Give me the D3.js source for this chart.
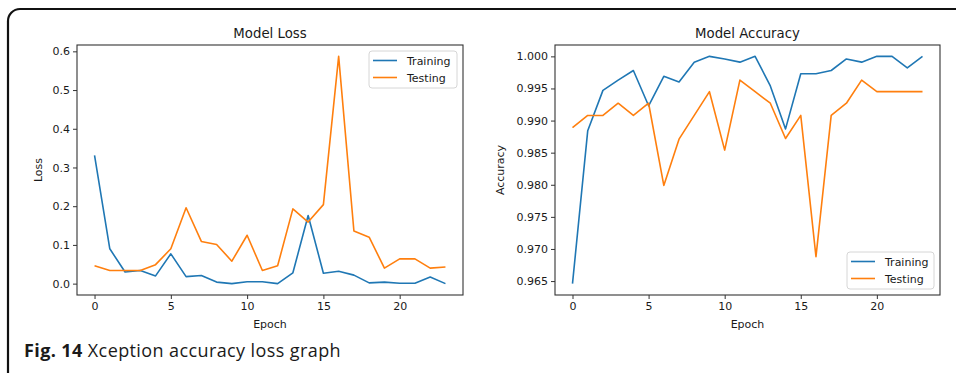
<!DOCTYPE html>
<html>
<head>
<meta charset="utf-8">
<title>Xception accuracy loss graph</title>
<script src="https://d3js.org/d3.v7.min.js"></script>
<style>
body {margin:0; background:white;}
svg {display:block;}
</style>
</head>
<body>
<svg id="chart" width="956" height="373"></svg>
<script>
// values
var epochs = d3.range(0, 24);
var lossTrain = [0.331, 0.090, 0.030, 0.034, 0.020, 0.077, 0.018, 0.021, 0.004, 0.000, 0.005, 0.005,
                 0.000, 0.028, 0.176, 0.027, 0.032, 0.022, 0.002, 0.004, 0.001, 0.001, 0.017, 0.000];
var lossTest = [0.046, 0.034, 0.034, 0.034, 0.049, 0.090, 0.196, 0.109, 0.101, 0.058, 0.125, 0.034,
                0.046, 0.193, 0.159, 0.204, 0.587, 0.136, 0.120, 0.040, 0.064, 0.064, 0.040, 0.043];
var accTrain = [0.9646, 0.9884, 0.9947, 0.9963, 0.9978, 0.9923, 0.9969, 0.9960, 0.9991, 1.0000, 0.9996, 0.9991,
                1.0000, 0.9954, 0.9887, 0.9973, 0.9973, 0.9978, 0.9996, 0.9991, 1.0000, 1.0000, 0.9982, 1.0000];
var accTest = [0.9889, 0.9908, 0.9908, 0.9927, 0.9908, 0.9927, 0.9799, 0.9871, 0.9908, 0.9945, 0.9854, 0.9963,
               0.9945, 0.9927, 0.9872, 0.9908, 0.9688, 0.9908, 0.9927, 0.9963, 0.9945, 0.9945, 0.9945, 0.9945];
var xTicks = [0, 5, 10, 15, 20];
var lossTicks = [0.0, 0.1, 0.2, 0.3, 0.4, 0.5, 0.6];
var accTicks = [0.965, 0.970, 0.975, 0.980, 0.985, 0.990, 0.995, 1.000];
var seriesNames = ["Training", "Testing"];
var seriesColors = ["#1f77b4", "#ff7f0e"];

var svg = d3.select("#chart");
var fontFam = "'DejaVu Sans', sans-serif";

// figure frame (top + left with rounded corner)
svg.append("path")
  .attr("d", "M8,373 V21 A12,12 0 0 1 20,9 H956")
  .attr("fill", "none")
  .attr("stroke", "#111")
  .attr("stroke-width", 2.2);

// caption
var cap = svg.append("text")
  .attr("x", 24).attr("y", 357)
  .style("font-family", "'Open Sans', 'Noto Sans', sans-serif")
  .style("font-size", "18px")
  .style("letter-spacing", "0.4px")
  .attr("fill", "#1a1a1a");
cap.append("tspan").style("font-weight", "bold").text("Fig. 14");
cap.append("tspan").text(" Xception accuracy loss graph");

function pad(ext) {
  var m = (ext[1] - ext[0]) * 0.05;
  return [ext[0] - m, ext[1] + m];
}

function drawPanel(p) {
  var g = svg.append("g");
  var x = d3.scaleLinear().domain(pad([0, 23])).range([p.left, p.right]);
  var all = p.series[0].concat(p.series[1]);
  var y = d3.scaleLinear().domain(pad(d3.extent(all))).range([p.bottom, p.top]);

  var xAxis = d3.axisBottom(x).tickValues(xTicks).tickFormat(d3.format("d")).tickSizeOuter(0).tickSize(4).tickPadding(3);
  var yAxis = d3.axisLeft(y).tickValues(p.ticks).tickFormat(d3.format(p.fmt)).tickSizeOuter(0).tickSize(4).tickPadding(3);

  g.append("g").attr("transform", "translate(0," + p.bottom + ")").call(xAxis);
  g.append("g").attr("transform", "translate(" + p.left + ",0)").call(yAxis);
  g.selectAll(".domain").remove();
  g.selectAll(".tick line").attr("stroke", "#333");
  g.selectAll(".tick text").attr("fill", "#1a1a1a").style("font-family", fontFam).style("font-size", "11px");

  var line = d3.line().x(function(d, i) { return x(epochs[i]); }).y(function(d) { return y(d); });
  p.series.forEach(function(s, k) {
    g.append("path")
      .datum(s)
      .attr("d", line)
      .attr("fill", "none")
      .attr("stroke", seriesColors[k])
      .attr("stroke-width", 1.6)
      .attr("stroke-linejoin", "round");
  });

  g.append("rect")
    .attr("x", p.left).attr("y", p.top)
    .attr("width", p.right - p.left).attr("height", p.bottom - p.top)
    .attr("fill", "none").attr("stroke", "#333").attr("stroke-width", 1.1);

  g.append("text")
    .attr("x", (p.left + p.right) / 2).attr("y", p.top - 7)
    .attr("text-anchor", "middle")
    .style("font-family", fontFam).style("font-size", "13.3px").attr("fill", "#1a1a1a")
    .text(p.title);

  g.append("text")
    .attr("x", (p.left + p.right) / 2).attr("y", 328)
    .attr("text-anchor", "middle")
    .style("font-family", fontFam).style("font-size", "11px").attr("fill", "#1a1a1a")
    .text("Epoch");

  g.append("text")
    .attr("transform", "translate(" + p.ylabX + "," + ((p.top + p.bottom) / 2) + ") rotate(-90)")
    .attr("text-anchor", "middle")
    .style("font-family", fontFam).style("font-size", "11px").attr("fill", "#1a1a1a")
    .text(p.ylabel);

  // legend
  var lg = g.append("g").attr("transform", "translate(" + p.legX + "," + p.legY + ")");
  lg.append("rect")
    .attr("width", p.legW).attr("height", 37).attr("rx", 3)
    .attr("fill", "white").attr("fill-opacity", 0.8)
    .attr("stroke", "#d6d6d6").attr("stroke-width", 1);
  seriesNames.forEach(function(name, k) {
    var yy = 9.5 + k * 17;
    lg.append("line")
      .attr("x1", 4).attr("x2", 28).attr("y1", yy).attr("y2", yy)
      .attr("stroke", seriesColors[k]).attr("stroke-width", 1.6);
    lg.append("text")
      .attr("x", 38).attr("y", yy + 4)
      .style("font-family", fontFam).style("font-size", "11px").attr("fill", "#1a1a1a")
      .text(name);
  });
}

drawPanel({
  title: "Model Loss", ylabel: "Loss", series: [lossTrain, lossTest],
  ticks: lossTicks, fmt: ".1f",
  left: 77, right: 463, top: 45, bottom: 295, ylabX: 42,
  legX: 369, legY: 51, legW: 88
});

drawPanel({
  title: "Model Accuracy", ylabel: "Accuracy", series: [accTrain, accTest],
  ticks: accTicks, fmt: ".3f",
  left: 555, right: 940, top: 45, bottom: 295, ylabX: 504,
  legX: 847, legY: 252, legW: 87
});
</script>
</body>
</html>
